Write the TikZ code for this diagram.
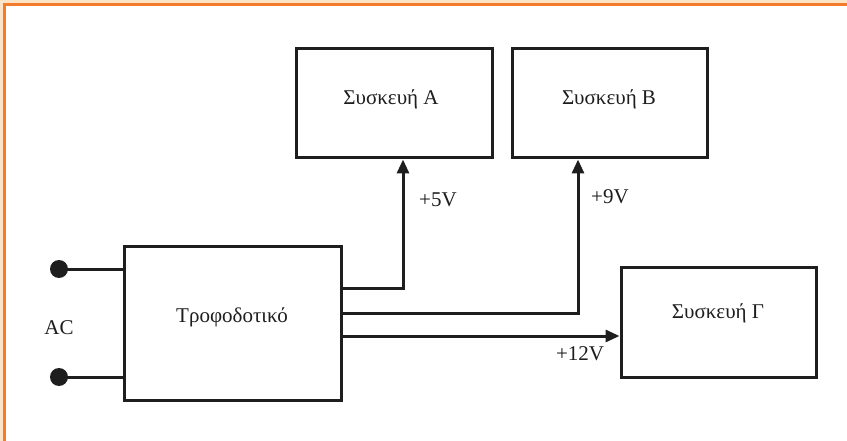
\documentclass[tikz,border=0pt]{standalone}
\usepackage{fontspec}
\setmainfont{Liberation Serif}
\usetikzlibrary{arrows.meta}
\definecolor{ink}{HTML}{1E1E1E}
\definecolor{frameorange}{HTML}{F47A2C}
\definecolor{peach}{HTML}{FCE4C6}
\begin{document}
\begin{tikzpicture}[x=1pt,y=-1pt,
  box/.style={draw=ink,line width=3pt,rectangle,inner sep=0pt},
  wire/.style={draw=ink,line width=3pt},
  arr/.style={wire,-{Triangle[length=14pt,width=12pt]}},
  lbl/.style={text=ink,font=\fontsize{21}{25}\selectfont,inner sep=0pt},
  term/.style={circle,fill=ink,draw=none,minimum size=18pt,inner sep=0pt}]
\useasboundingbox (0,0) rectangle (847,441);
\fill[white] (0,0) rectangle (847,441);
\fill[peach] (0,0) rectangle (847,3);
\fill[peach] (0,0) rectangle (3,441);
\draw[frameorange,line width=3pt] (4.5,441) -- (4.5,5) -- (847,5);

% boxes
\node[box,minimum width=217pt,minimum height=153pt] (psu) at (232.5,323.5) {};
\node[box,minimum width=196pt,minimum height=109pt] (A) at (394,103.5) {};
\node[box,minimum width=195pt,minimum height=109pt] (B) at (609.5,103.5) {};
\node[box,minimum width=195pt,minimum height=110pt] (G) at (718.5,322) {};

% texts
\node[lbl] (psuT) at (232,317) {Τροφοδοτικό};
\node[lbl] (AT) at (391,99) {Συσκευή Α};
\node[lbl] (BT) at (609,99) {Συσκευή Β};
\node[lbl] (GT) at (718,313) {Συσκευή Γ};
\node[lbl] (ac) at (59,328) {AC};
\node[lbl] (v5) at (438,200) {+5V};
\node[lbl] (v9) at (610,197) {+9V};
\node[lbl] (v12) at (580,354) {+12V};

% terminals
\node[term] (d1) at (59,269) {};
\node[term] (d2) at (59,377) {};
\draw[wire] (d1.center) -- (d1 -| psu.west);
\draw[wire] (d2.center) -- (d2 -| psu.west);

% outputs
\coordinate (t5) at (403,288);
\coordinate (t9) at (578,313);
\coordinate (t12) at (0,336);
\draw[arr] (t5 -| psu.east) -- (t5) -- (t5 |- A.south);
\draw[arr] (t9 -| psu.east) -- (t9) -- (t9 |- B.south);
\draw[arr] (t12 -| psu.east) -- (t12 -| G.west);
\end{tikzpicture}
\end{document}
